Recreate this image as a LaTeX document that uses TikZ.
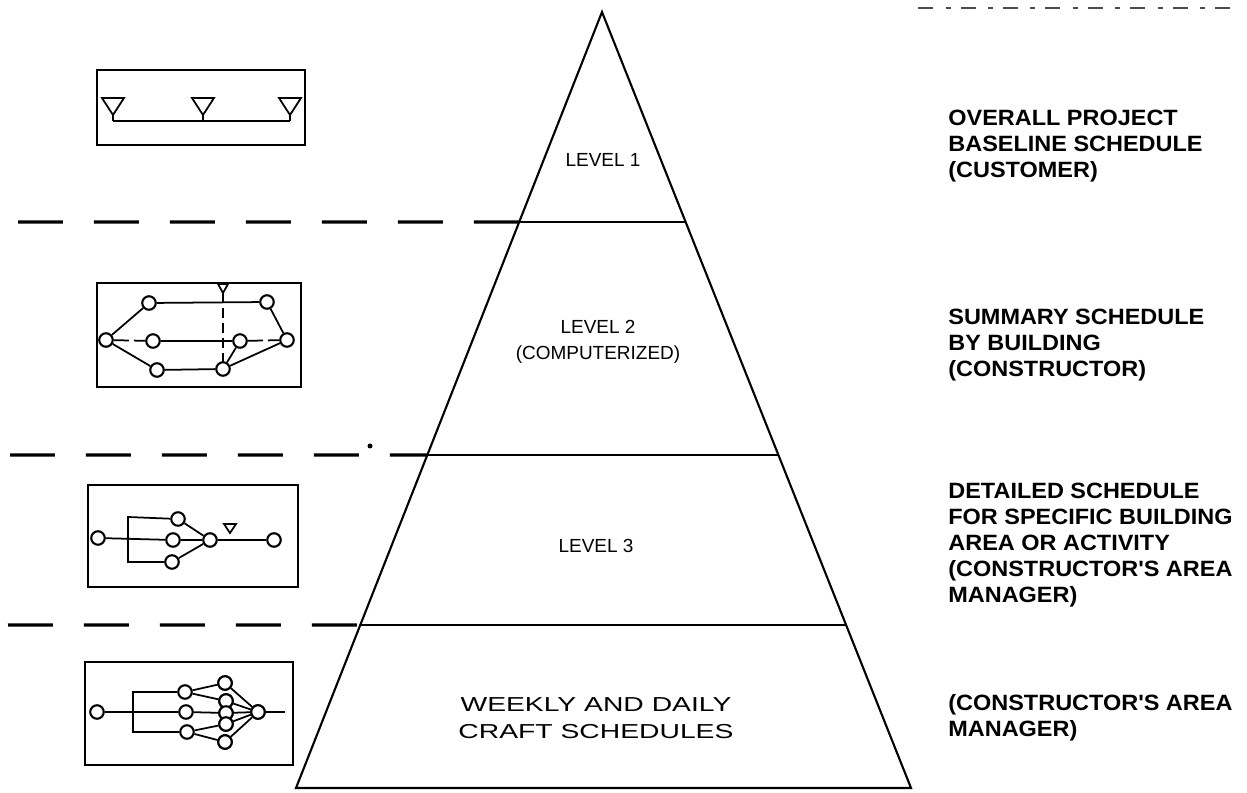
\documentclass[tikz,border=0pt]{standalone}
\usepackage{fontspec}
\newfontfamily\labfont{Liberation Sans}
\newfontfamily\widefont[FakeStretch=1.4]{Liberation Sans}
\newfontfamily\rightfont[FakeStretch=1.06]{Liberation Sans}
\usetikzlibrary{calc}
\begin{document}
\begin{tikzpicture}[x=0.02cm,y=-0.02cm,
  pyr/.style={line width=1.2pt},
  sep/.style={line width=1.8pt, dash pattern=on 0.9cm off 0.62cm},
  frame/.style={line width=1.1pt},
  net/.style={line width=1pt},
  ev/.style={circle, draw, line width=1.2pt, fill=white, minimum size=0.27cm, inner sep=0pt},
  lvl/.style={font=\labfont\fontsize{10.8}{14.7}\selectfont, align=center},
  lvlw/.style={font=\widefont\fontsize{11.5}{15.3}\selectfont, align=center},
  rlab/.style={font=\rightfont\bfseries\fontsize{12.6}{14.7}\selectfont, align=left, anchor=west, inner sep=0pt}
]
\useasboundingbox (0,0) rectangle (1247,793);

% pyramid
\coordinate (apex) at (602,12);
\coordinate (bl) at (296,788);
\coordinate (br) at (911,788);
\draw[pyr] (apex) -- (bl) -- (br) -- cycle;
\coordinate (l1) at ($(apex)!0.2706!(bl)$);
\coordinate (r1) at ($(apex)!0.2706!(br)$);
\coordinate (l2) at ($(apex)!0.5709!(bl)$);
\coordinate (r2) at ($(apex)!0.5709!(br)$);
\coordinate (l3) at ($(apex)!0.7899!(bl)$);
\coordinate (r3) at ($(apex)!0.7899!(br)$);
\draw[pyr] (l1) -- (r1);
\draw[pyr] (l2) -- (r2);
\draw[pyr] (l3) -- (r3);

% dashed separators
\coordinate (d1) at (18,222);
\coordinate (d2) at (10,455);
\coordinate (d3) at (8,625);
\draw[sep] (d1) -- (l1);
\draw[sep] (d2) -- (l2);
\draw[sep] (d3) -- (l3);
\fill (370,446) circle (2.5);

% top-right scan residue
\draw[line width=1.2pt, black!70, dash pattern=on 0.3cm off 0.25cm on 0.1cm off 0.2cm] (918,8) -- (1240,8);

% level labels
\node[lvl] (t1) at (603,160) {LEVEL 1};
\node[lvl] (t2) at (598,342) {LEVEL 2\\(COMPUTERIZED)};
\node[lvl] (t3) at (596,546) {LEVEL 3};
\node[lvlw] (t4) at (596,718) {WEEKLY AND DAILY\\CRAFT SCHEDULES};

% right labels
\node[rlab] (r1t) at (948,146) {OVERALL PROJECT\\BASELINE SCHEDULE\\(CUSTOMER)};
\node[rlab] (r2t) at (948,345) {SUMMARY SCHEDULE\\BY BUILDING\\(CONSTRUCTOR)};
\node[rlab] (r3t) at (948,545) {DETAILED SCHEDULE\\FOR SPECIFIC BUILDING\\AREA OR ACTIVITY\\(CONSTRUCTOR'S AREA\\MANAGER)};
\node[rlab] (r4t) at (948,718) {(CONSTRUCTOR'S AREA\\MANAGER)};

% ---- box 1: milestones
\draw[frame] (97,70) rectangle (305,145);
\coordinate (m1) at (113,121);
\coordinate (m2) at (203,121);
\coordinate (m3) at (290,121);
\draw[net] (m1) -- (m3);
\foreach \m in {m1,m2,m3}{
  \draw[net] (\m) ++(-11,-23) -- ++(22,0) -- ++(-11,17) -- cycle;
  \draw[net] (\m) -- ++(0,-6);
}

% ---- box 2
\draw[frame] (97,283) rectangle (301,387);
\node[ev] (a1) at (106,340) {};
\node[ev] (a2) at (149,303) {};
\node[ev] (a3) at (267,302) {};
\node[ev] (a4) at (153,341) {};
\node[ev] (a5) at (240,341) {};
\node[ev] (a6) at (287,340) {};
\node[ev] (a7) at (157,370) {};
\node[ev] (a8) at (223,369) {};
\draw[net] (a1) -- (a2) -- (a3) -- (a6);
\draw[net, dash pattern=on 0.3cm off 0.1cm] (a1) -- (a4);
\draw[net] (a4) -- (a5);
\draw[net, dash pattern=on 0.3cm off 0.1cm] (a5) -- (a6);
\draw[net] (a1) -- (a7) -- (a8) -- (a6);
\draw[net] (a8) -- (a5);
\coordinate (mk2) at (223,293);
\draw[net] (mk2) ++(-5,-9) -- ++(10,0) -- ++(-5,9) -- cycle;
\draw[net, dash pattern=on 0.2cm off 0.1cm] (mk2) -- (223,362);

% ---- box 3
\draw[frame] (88,485) rectangle (298,587);
\node[ev] (b1) at (98,538) {};
\node[ev] (b2) at (178,519) {};
\node[ev] (b3) at (173,540) {};
\node[ev] (b4) at (172,562) {};
\node[ev] (b5) at (210,540) {};
\node[ev] (b6) at (274,540) {};
\coordinate (bt) at (128,517);
\coordinate (bb) at (128,562);
\draw[net] (b1) -- (b3);
\draw[net] (b2) -- (bt) -- (bb) -- (b4);
\draw[net] (b2) -- (b5);
\draw[net] (b3) -- (b5);
\draw[net] (b4) -- (b5);
\draw[net] (b5) -- (b6);
\coordinate (mk3) at (230,533);
\draw[net] (mk3) ++(-6,-9) -- ++(12,0) -- ++(-6,9) -- cycle;

% ---- box 4
\draw[frame] (85,662) rectangle (293,765);
\node[ev] (c1) at (97,712) {};
\node[ev] (c2) at (185,692) {};
\node[ev] (c3) at (186,712) {};
\node[ev] (c4) at (187,732) {};
\node[ev] (c5) at (225,683) {};
\node[ev] (c6) at (226,701) {};
\node[ev] (c7) at (226,713) {};
\node[ev] (c8) at (226,724) {};
\node[ev] (c9) at (225,742) {};
\node[ev] (c10) at (258,712) {};
\coordinate (ct) at (133,692);
\coordinate (cb) at (133,732);
\coordinate (cend) at (285,712);
\draw[net] (c1) -- (c3);
\draw[net] (c2) -- (ct) -- (cb) -- (c4);
\draw[net] (c2) -- (c5);
\draw[net] (c2) -- (c6);
\draw[net] (c3) -- (c7);
\draw[net] (c4) -- (c8);
\draw[net] (c4) -- (c9);
\foreach \n in {c5,c6,c7,c8,c9} \draw[net] (\n) -- (c10);
\draw[net] (c10) -- (cend);
\foreach \n in {c5,c6,c7,c8,c9,c10} \node[ev] at (\n) {};
\end{tikzpicture}
\end{document}
